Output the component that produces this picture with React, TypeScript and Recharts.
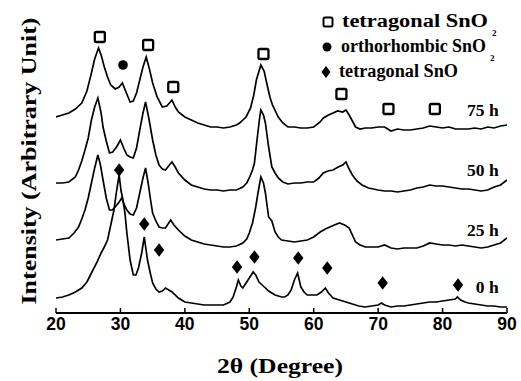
import React from "react";
import {
  ComposedChart,
  Line,
  Scatter,
  XAxis,
  YAxis,
  Customized,
} from "recharts";

// 2θ (degree), intensity (arbitrary units, stacked offsets included)
const curve75h: [number, number][] = [
  [20,196],[21,198],[22,200],[23,204],[24,210],[24.8,222],[25.5,240],[26,254],[26.6,265],[27,258],[27.5,246],[28,236],[28.5,228],[29.2,224],[29.8,226],[30.3,230],[30.8,222],[31.5,211],[32,212],[32.5,220],[33,233],[33.5,246],[34,256],[34.5,244],[35,230],[35.7,216],[36.5,206],[37.2,207],[38,213],[38.5,206],[39,201],[40,196],[41,193],[42,190],[43,188],[44,186],[45,186],[46,185],[47,186],[48,188],[48.5,190],[49.5,196],[50.2,205],[50.7,218],[51.1,233],[51.8,248],[52.3,242],[52.7,230],[53.2,216],[53.6,208],[54.5,196],[55.2,190],[56,186],[57,186],[58,185],[59,185],[60,186],[61,191],[61.5,195],[62.3,198],[63,200],[63.7,202],[64.5,201],[65,203],[65.5,198],[66,192],[66.5,186],[67.2,184],[68,185],[69,185],[70,186],[71,186],[72,182],[73,184],[74,183],[75,183],[76,184],[77,185],[78,187],[79,186],[80,185],[81,186],[82,184],[83,184],[84,184],[85,185],[86,184],[87,186],[88,185],[89,187],[90,188],
];
const curve50h: [number, number][] = [
  [20,130],[21,130],[22,131],[23,136],[23.5,143],[24,152],[24.5,163],[25,175],[25.5,193],[26,206],[26.5,215],[27,200],[27.3,186],[27.8,172],[28.3,160],[28.8,161],[29.4,166],[30,173],[30.5,165],[31,158],[31.5,156],[32,155],[32.5,165],[33,183],[33.5,200],[33.9,211],[34.4,195],[35,173],[35.5,158],[36,148],[36.5,144],[37,143],[37.6,148],[38,151],[38.5,146],[39,140],[40,133],[41,128],[42,126],[43,124],[44,123],[45,123],[46,122],[47,123],[48,123],[49,126],[49.6,130],[50,135],[50.5,143],[50.8,150],[51.2,173],[51.6,195],[51.8,203],[52.2,198],[52.5,190],[53,166],[53.5,146],[54,140],[54.5,135],[55.2,131],[56,129],[57,130],[58,130],[59,131],[60,131],[60.8,135],[61.5,140],[62.2,142],[63,143],[63.8,146],[64.5,148],[65,151],[65.5,144],[66,138],[66.7,132],[67.5,128],[68.5,125],[70,123],[71,122],[72,122],[73,121],[74,122],[75,123],[76,125],[77,126],[78,128],[79,127],[80,127],[81,126],[82,125],[83,124],[84,124],[85,123],[86,122],[87,123],[88,126],[89,128],[90,133],
];
const curve25h: [number, number][] = [
  [20,73],[21,74],[22,75],[22.8,80],[23.5,86],[24,94],[24.5,103],[25,115],[25.5,130],[26,145],[26.5,158],[26.9,148],[27.3,133],[27.8,115],[28.3,103],[28.7,103],[29.2,106],[29.8,111],[30.2,115],[30.6,108],[31,103],[31.5,99],[32,98],[32.5,105],[33,120],[33.5,135],[33.9,145],[34.3,130],[34.7,112],[35,100],[35.5,92],[36,86],[36.5,85],[37,85],[37.8,93],[38.3,88],[39,83],[40,77],[41,73],[42,71],[43,69],[44,68],[45,67],[46,66],[47,66],[48,67],[49,70],[49.6,74],[50,80],[50.5,90],[51,106],[51.4,122],[51.8,136],[52.2,130],[52.5,120],[53,96],[53.5,92],[54,81],[54.5,76],[55,73],[56,72],[57,71],[58,72],[59,73],[60,76],[61,81],[61.8,84],[62.5,86],[63.2,88],[64,90],[64.8,88],[65.5,85],[66,78],[66.5,71],[67.2,68],[68,66],[69,66],[70,66],[71,68],[72,65],[73,64],[74,65],[75,65],[76,65],[77,67],[78,70],[79,69],[80,68],[81,68],[82,67],[83,68],[84,67],[85,66],[86,65],[87,66],[88,68],[89,70],[90,75],
];
const curve0h: [number, number][] = [
  [20,15],[21,16],[22,18],[23,21],[24,25],[24.8,31],[25.5,40],[26.3,50],[27,60],[27.5,66],[28,73],[28.5,88],[29,103],[29.4,122],[29.8,138],[30.1,122],[30.4,113],[30.7,100],[31,80],[31.5,53],[32,38],[32.4,38],[32.8,45],[33.3,60],[33.7,76],[34.2,53],[34.7,38],[35,30],[35.5,24],[36,21],[36.5,22],[37,25],[37.5,23],[38,21],[39,15],[40,11],[41,10],[42,9],[43,8],[44,8],[45,8],[46,8],[47,11],[47.5,16],[48,26],[48.3,33],[48.7,27],[49,25],[49.5,30],[50,35],[50.6,41],[51,38],[51.5,31],[52,28],[52.5,25],[53,22],[54,18],[55,16],[55.5,16],[56,18],[56.5,23],[57,33],[57.5,40],[58,26],[58.5,21],[59,18],[60,18],[60.5,18],[61.2,21],[61.8,25],[62.3,20],[63,15],[64,13],[65,11],[66,9],[67,7],[68,6],[69,7],[70,8],[70.5,10],[71,8],[72,6],[73,7],[74,7],[75,8],[76,9],[77,10],[78,11],[79,11],[80,12],[81,13],[82,14],[82.3,16],[82.8,13],[83.5,11],[84,10],[85,9],[86,8],[87,7],[88,7],[89,6],[90,6],
];

// phase markers: [2θ, height]
const tetragonalSnO2Marks: [number, number][] = [
  [26.8,276],[34.3,268],[38.2,226],[52.2,259],[64.3,219],[71.6,204],[78.8,204],
];
const orthorhombicSnO2Marks: [number, number][] = [[30.4,248]];
const tetragonalSnOMarks: [number, number][] = [
  [29.8,143],[33.7,89],[36.0,63],[48.1,46],[50.8,56],[57.6,55],[62.1,45],[70.7,30],[82.4,28],
];

const seriesLabels: string[] = ["75 h", "50 h", "25 h", "0 h"];
const seriesLabelY: number[] = [203, 143, 83, 26];
const seriesLabelX = 88.7;

const xTicks: number[] = [20, 30, 40, 50, 60, 70, 80, 90];
const legendNames: string[] = ["tetragonal SnO", "orthorhombic SnO", "tetragonal SnO"];
const legendSubs: string[] = ["2", "2", ""];

const toPts = (a: [number, number][]) => a.map(([x, y]) => ({ x, y }));

const SERIF = "'Liberation Serif', 'Times New Roman', serif";
const SANS = "'Liberation Sans', Arial, sans-serif";

const SquareShape = (p: any) => (
  <rect x={p.cx - 5} y={p.cy - 5} width={10} height={10} fill="#fff" stroke="#000" strokeWidth={2.3} rx={1.5} />
);
const CircleShape = (p: any) => <circle cx={p.cx} cy={p.cy} r={4.8} fill="#000" />;
const DiamondShape = (p: any) => (
  <path d={`M${p.cx},${p.cy - 6.8} L${p.cx + 5.2},${p.cy} L${p.cx},${p.cy + 6.8} L${p.cx - 5.2},${p.cy} Z`} fill="#000" />
);
const LabelShape = (p: any) => (
  <text x={p.cx} y={p.cy + 6} textAnchor="end" fontFamily={SERIF} fontWeight="bold" fontSize={17.5} fill="#000">
    {p.payload?.label}
  </text>
);

const XTick = (p: any) => (
  <g>
    <line x1={p.x} x2={p.x} y1={p.y} y2={p.y - 5} stroke="#000" strokeWidth={1.5} />
    <text x={p.x} y={p.y + 17} textAnchor="middle" fontFamily={SANS} fontWeight="bold" fontSize={17.5} fill="#000">
      {p.payload.value}
    </text>
  </g>
);

const Decor = () => {
  const icons = [
    (cx: number, cy: number) => <rect x={cx - 4.5} y={cy - 4.5} width={9} height={9} fill="#fff" stroke="#000" strokeWidth={2} rx={1.5} />,
    (cx: number, cy: number) => <circle cx={cx} cy={cy} r={4.5} fill="#000" />,
    (cx: number, cy: number) => <path d={`M${cx},${cy - 6} L${cx + 4.5},${cy} L${cx},${cy + 6} L${cx - 4.5},${cy} Z`} fill="#000" />,
  ];
  const iconX = [328, 327, 326];
  const iconY = [22, 47, 72];
  const textX = [342, 341, 339];
  const textLen = [146, 145, 119];
  return (
    <g>
      {legendNames.map((n, i) => (
        <g key={i}>
          {icons[i](iconX[i], iconY[i])}
          <text
            x={textX[i]}
            y={iconY[i] + 5}
            fontFamily={SERIF}
            fontWeight="bold"
            fontSize={18.5}
            textLength={textLen[i]}
            lengthAdjust="spacingAndGlyphs"
            fill="#000"
          >
            {n}
          </text>
          {legendSubs[i] ? (
            <text x={textX[i] + textLen[i] + 4} y={iconY[i] + 14} fontFamily={SERIF} fontWeight="bold" fontSize={9} fill="#000">
              {legendSubs[i]}
            </text>
          ) : null}
        </g>
      ))}
      <text
        x={0}
        y={0}
        transform="translate(36,161) rotate(-90)"
        textAnchor="middle"
        fontFamily={SERIF}
        fontWeight="bold"
        fontSize={22}
        textLength={287}
        lengthAdjust="spacingAndGlyphs"
        fill="#000"
      >
        Intensity (Arbitrary Unit)
      </text>
      <text
        x={280}
        y={373}
        textAnchor="middle"
        fontFamily={SERIF}
        fontWeight="bold"
        fontSize={22}
        textLength={126}
        lengthAdjust="spacingAndGlyphs"
        fill="#000"
      >
        2θ (Degree)
      </text>
    </g>
  );
};

export default function App() {
  const labelPts = seriesLabels.map((label, i) => ({ x: seriesLabelX, y: seriesLabelY[i], label }));
  return (
    <div style={{ position: "absolute", left: 0, top: 0, background: "#fff" }}>
      <ComposedChart width={521} height={381} margin={{ top: 4, right: 14, left: 56, bottom: 0 }}>
        <XAxis
          xAxisId="b"
          type="number"
          dataKey="x"
          domain={[20, 90]}
          ticks={xTicks}
          height={68}
          tickSize={0}
          tickMargin={0}
          tickLine={false}
          tick={<XTick />}
          axisLine={{ stroke: "#000", strokeWidth: 2 }}
          allowDataOverflow
        />
        <XAxis
          xAxisId="t"
          orientation="top"
          type="number"
          domain={[20, 90]}
          height={0}
          tick={false}
          tickLine={false}
          axisLine={{ stroke: "#555", strokeWidth: 1 }}
        />
        <YAxis
          yAxisId="l"
          type="number"
          domain={[0, 309]}
          width={0}
          tick={false}
          tickLine={false}
          axisLine={{ stroke: "#000", strokeWidth: 1.6 }}
          allowDataOverflow
        />
        <YAxis
          yAxisId="r"
          orientation="right"
          type="number"
          domain={[0, 309]}
          width={0}
          tick={false}
          tickLine={false}
          axisLine={{ stroke: "#000", strokeWidth: 1.2 }}
        />
        {[curve75h, curve50h, curve25h, curve0h].map((c, i) => (
          <Line
            key={i}
            xAxisId="b"
            yAxisId="l"
            data={toPts(c)}
            dataKey="y"
            type="linear"
            stroke="#000"
            strokeWidth={1.7}
            dot={false}
            activeDot={false}
            isAnimationActive={false}
          />
        ))}
        <Scatter xAxisId="b" yAxisId="l" data={toPts(tetragonalSnO2Marks)} dataKey="y" shape={SquareShape} isAnimationActive={false} />
        <Scatter xAxisId="b" yAxisId="l" data={toPts(orthorhombicSnO2Marks)} dataKey="y" shape={CircleShape} isAnimationActive={false} />
        <Scatter xAxisId="b" yAxisId="l" data={toPts(tetragonalSnOMarks)} dataKey="y" shape={DiamondShape} isAnimationActive={false} />
        <Scatter xAxisId="b" yAxisId="l" data={labelPts} dataKey="y" shape={LabelShape} isAnimationActive={false} />
        <Customized component={Decor} />
      </ComposedChart>
    </div>
  );
}
